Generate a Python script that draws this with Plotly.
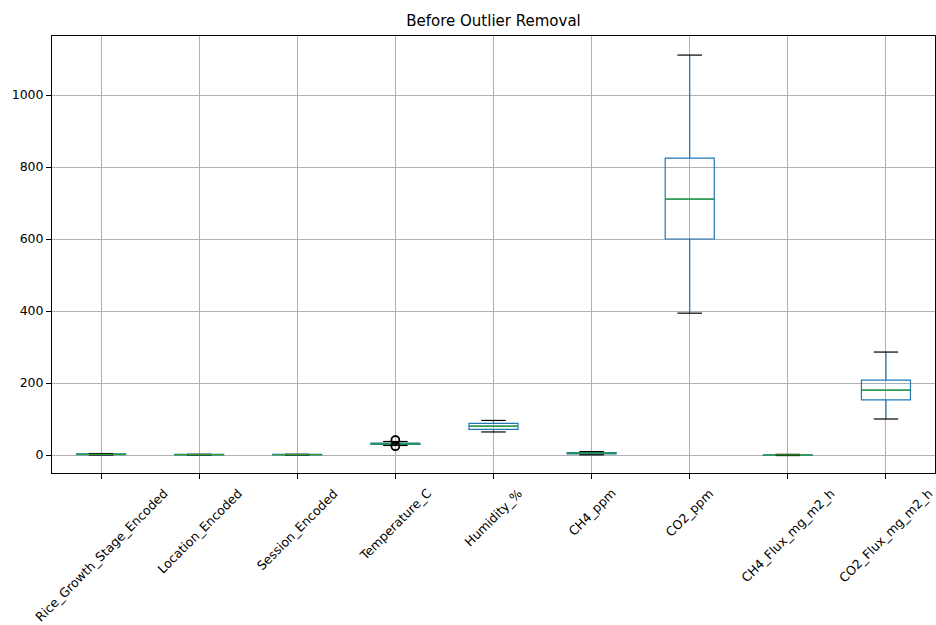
import plotly.graph_objects as go

categories = ["Rice_Growth_Stage_Encoded", "Location_Encoded", "Session_Encoded",
              "Temperature_C", "Humidity_%", "CH4_ppm", "CO2_ppm",
              "CH4_Flux_mg_m2_h", "CO2_Flux_mg_m2_h"]
lower_whisker = [0, 0, 0, 26.5, 64, 0.5, 394, -1.5, 100]
q1_values = [1, 0, 0, 29.5, 71, 3, 600, -0.5, 153]
median_values = [2, 1, 1, 31, 80, 5, 711, 0.1, 180]
q3_values = [3, 2, 2, 33, 88, 7, 825, 0.6, 208]
upper_whisker = [4, 2, 2, 37.5, 96, 9.5, 1111, 1.8, 286]
temperature_outliers = [24, 25, 41, 42]
y_ticks = [0, 200, 400, 600, 800, 1000]

BLUE = "#1f77b4"
GREEN = "#2ca02c"
FONT = "DejaVu Sans"
BOX_W = 0.5
CAP_W = 0.25

positions = list(range(1, len(categories) + 1))

fig = go.Figure()

fig.add_trace(go.Box(
    x=positions, q1=q1_values, median=median_values, q3=q3_values,
    lowerfence=lower_whisker, upperfence=upper_whisker,
    width=BOX_W, whiskerwidth=0, fillcolor="rgba(0,0,0,0)",
    line=dict(color=BLUE, width=1.2), boxpoints=False, showlegend=False,
    hoverinfo="skip",
))

# caps (black)
cx, cy = [], []
for p, lo, hi in zip(positions, lower_whisker, upper_whisker):
    cx += [p - CAP_W / 2, p + CAP_W / 2, None, p - CAP_W / 2, p + CAP_W / 2, None]
    cy += [lo, lo, None, hi, hi, None]
fig.add_trace(go.Scatter(x=cx, y=cy, mode="lines", line=dict(color="black", width=1.2),
                         showlegend=False, hoverinfo="skip"))

# medians (green)
mx, my = [], []
for p, m in zip(positions, median_values):
    mx += [p - BOX_W / 2, p + BOX_W / 2, None]
    my += [m, m, None]
fig.add_trace(go.Scatter(x=mx, y=my, mode="lines", line=dict(color=GREEN, width=1.2),
                         showlegend=False, hoverinfo="skip"))

# outliers
temp_pos = positions[categories.index("Temperature_C")]
fig.add_trace(go.Scatter(
    x=[temp_pos] * len(temperature_outliers), y=temperature_outliers, mode="markers",
    marker=dict(symbol="circle-open", color="black", size=8, line=dict(width=1.5)),
    showlegend=False, hoverinfo="skip"))

# rotated category labels (centered under ticks like matplotlib)
for p, name in zip(positions, categories):
    fig.add_annotation(x=p, xref="x", y=0, yref="paper", text=name, showarrow=False,
                       textangle=-45, xanchor="center", yanchor="top", yshift=-10,
                       font=dict(family=FONT, size=12.5, color="black"))

fig.update_layout(
    width=936, height=625,
    margin=dict(l=52, r=1, t=36, b=152),
    paper_bgcolor="white", plot_bgcolor="white",
    font=dict(family=FONT, size=12.5, color="black"),
    title=dict(text="Before Outlier Removal", x=0.5, xref="paper", xanchor="center",
               y=1 - 21 / 625, yref="container", yanchor="middle",
               font=dict(family=FONT, size=15, color="black")),
    showlegend=False,
)
fig.update_xaxes(range=[0.5, len(categories) + 0.5], tickvals=positions,
                 ticktext=[""] * len(categories),
                 showgrid=True, gridcolor="#b0b0b0", gridwidth=1,
                 showline=True, linecolor="black", linewidth=1, mirror=True,
                 ticks="outside", ticklen=5, tickcolor="black", zeroline=False)
fig.update_yaxes(range=[-50, 1164], tickvals=y_ticks,
                 showgrid=True, gridcolor="#b0b0b0", gridwidth=1,
                 showline=True, linecolor="black", linewidth=1, mirror=True,
                 ticks="outside", ticklen=5, tickcolor="black", zeroline=False,
                 tickfont=dict(family=FONT, size=12.5, color="black"))

fig.write_html("out.html", config={"displayModeBar": False},
               post_script="document.body.style.margin='0';document.body.style.overflow='hidden';")
